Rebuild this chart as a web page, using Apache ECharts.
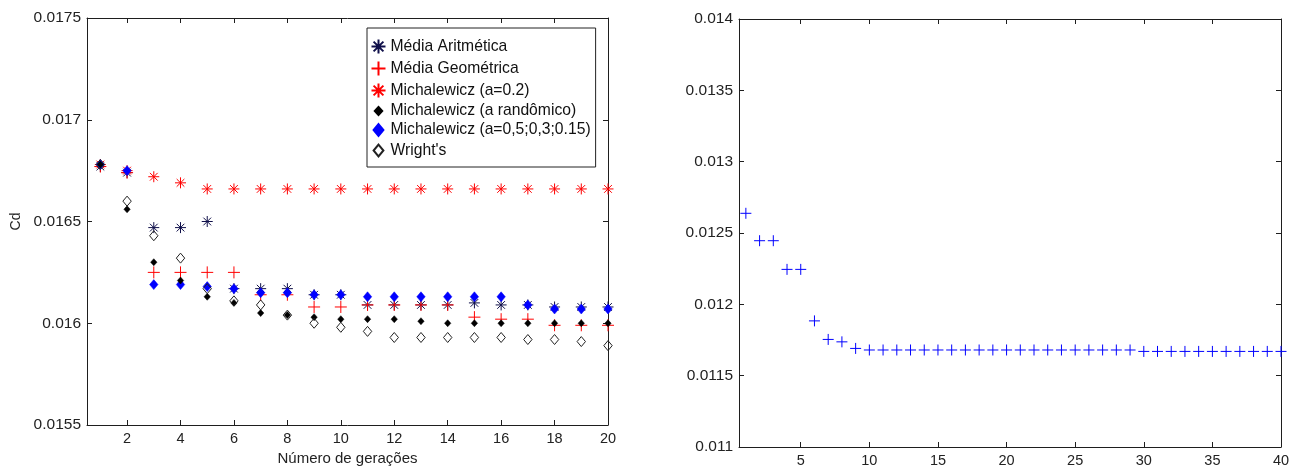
<!DOCTYPE html>
<html>
<head>
<meta charset="utf-8">
<script src="https://cdn.jsdelivr.net/npm/echarts@6/dist/echarts.min.js"></script>
<style>
html,body{margin:0;padding:0;background:#fff;}
#c{width:1297px;height:471px;}
</style>
</head>
<body>
<div id="c"></div>
<script>
// ---------- DATA ----------
const generations = [1,2,3,4,5,6,7,8,9,10,11,12,13,14,15,16,17,18,19,20];
const mediaAritmetica = [0.01677,0.01674,0.01647,0.01647,0.01650,0.01617,0.01617,0.01617,0.01614,0.01614,0.01609,0.01609,0.01609,0.01609,0.01610,0.01609,0.01609,0.01608,0.01608,0.01608];
const mediaGeometrica = [0.01677,0.01674,0.01625,0.01625,0.01625,0.01625,0.01614,0.01614,0.01608,0.01608,0.01609,0.01609,0.01609,0.01609,0.01603,0.01602,0.01602,0.01599,0.01599,0.01599];
const michA02 = [0.01678,0.01675,0.01672,0.01669,0.01666,0.01666,0.01666,0.01666,0.01666,0.01666,0.01666,0.01666,0.01666,0.01666,0.01666,0.01666,0.01666,0.01666,0.01666,0.01666];
const michRandom = [0.01678,0.01656,0.01630,0.01621,0.01613,0.01610,0.01605,0.01604,0.01603,0.01602,0.01602,0.01602,0.01601,0.01600,0.01600,0.01600,0.01600,0.01600,0.01600,0.01600];
const michMulti = [0.01678,0.01675,0.01619,0.01619,0.01618,0.01617,0.01615,0.01615,0.01614,0.01614,0.01613,0.01613,0.01613,0.01613,0.01613,0.01613,0.01609,0.01607,0.01607,0.01607];
const wrights = [0.01678,0.01660,0.01643,0.01632,0.01617,0.01611,0.01609,0.01604,0.01600,0.01598,0.01596,0.01593,0.01593,0.01593,0.01593,0.01593,0.01592,0.01592,0.01591,0.01589];

const rightGenerations = [1,2,3,4,5,6,7,8,9,10,11,12,13,14,15,16,17,18,19,20,21,22,23,24,25,26,27,28,29,30,31,32,33,34,35,36,37,38,39,40];
const rightValues = [0.012638,0.012446,0.012446,0.012245,0.012245,0.011884,0.011754,0.011737,0.011691,0.01168,0.01168,0.01168,0.01168,0.01168,0.01168,0.01168,0.01168,0.01168,0.01168,0.01168,0.01168,0.01168,0.01168,0.01168,0.01168,0.01168,0.01168,0.01168,0.01168,0.01167,0.01167,0.01167,0.01167,0.01167,0.01167,0.01167,0.01167,0.01167,0.01167,0.01167];

const leftXTicks = [2,4,6,8,10,12,14,16,18,20];
const rightXTicks = [5,10,15,20,25,30,35,40];

const seriesNames = ['Média Aritmética','Média Geométrica','Michalewicz (a=0.2)','Michalewicz (a randômico)','Michalewicz (a=0,5;0,3;0.15)',"Wright's"];
const xLabel = 'Número de gerações';
const yLabel = 'Cd';

// ---------- STYLE ----------
const FONT = "'Liberation Sans', Arial, sans-serif";
const AX = '#1e1e1e';
const PLUS = 'path://M0,0M12,12M6,0L6,12M0,6L12,6';
const STAR = 'path://M6,0L6,12M0,6L12,6M1.8,1.8L10.2,10.2M1.8,10.2L10.2,1.8';
const DIA_SMALL = 'path://M0,0M12,12M6,2.5L9.2,6L6,9.5L2.8,6Z';
const DIA_MID = 'path://M0,0M12,12M6,1L10.2,6L6,11L1.8,6Z';

function pairs(xs, ys){ return xs.map((x,i)=>[x, ys[i]]); }
const fmt = v => String(Number(v.toFixed(6)));

function xAx(grid, max, ticks, pos, show){
  return {
    type:'value', gridIndex:grid, min:0.5, max:max, position:pos,
    axisLine:{show:true, onZero:false, lineStyle:{color:AX, width:1}},
    axisTick:{show:true, inside:true, length:5, customValues:ticks, lineStyle:{color:AX}},
    axisLabel:{show:show, customValues:ticks, color:'#222', fontFamily:FONT, fontSize:14.5, margin:6},
    splitLine:{show:false}
  };
}
function yAx(grid, min, max, pos, show){
  return {
    type:'value', gridIndex:grid, min:min, max:max, interval:0.0005, position:pos,
    axisLine:{show:true, onZero:false, lineStyle:{color:AX, width:1}},
    axisTick:{show:true, inside:true, length:5, lineStyle:{color:AX}},
    axisLabel:{show:show, color:'#222', fontFamily:FONT, fontSize:15.5, margin:6, formatter:fmt},
    splitLine:{show:false}
  };
}

const chart = echarts.init(document.getElementById('c'), null, {renderer:'canvas'});
const xa0 = xAx(0, 20, leftXTicks, 'bottom', true);
xa0.name = xLabel; xa0.nameLocation = 'middle'; xa0.nameGap = 26;
xa0.nameTextStyle = {color:'#222', fontFamily:FONT, fontSize:15};
const ya0 = yAx(0, 0.0155, 0.0175, 'left', true);
ya0.name = yLabel; ya0.nameLocation = 'middle'; ya0.nameGap = 64;
ya0.nameTextStyle = {color:'#222', fontFamily:FONT, fontSize:14};

chart.setOption({
  animation:false,
  backgroundColor:'#fff',
  grid:[
    {left:87, top:18, width:521, height:411},
    {left:739, top:19, width:542, height:428}
  ],
  xAxis:[
    xa0,
    xAx(0, 20, leftXTicks, 'top', false),
    xAx(1, 40, rightXTicks, 'bottom', true),
    xAx(1, 40, rightXTicks, 'top', false)
  ],
  yAxis:[
    ya0,
    yAx(0, 0.0155, 0.0175, 'right', false),
    yAx(1, 0.011, 0.014, 'left', true),
    yAx(1, 0.011, 0.014, 'right', false)
  ],
  legend:{
    orient:'vertical',
    left:367, top:28,
    padding:[9,5,7,2],
    itemWidth:14, itemHeight:14, itemGap:3,
    borderColor:'#222', borderWidth:1, backgroundColor:'#fff',
    textStyle:{color:'#111', fontFamily:FONT, fontSize:15.7, lineHeight:16, padding:[0,0,0,0]},
    data:seriesNames
  },
  series:[
    {name:seriesNames[0], type:'scatter', xAxisIndex:0, yAxisIndex:0, data:pairs(generations, mediaAritmetica),
     symbol:STAR, symbolSize:11, itemStyle:{opacity:1, color:'none', borderColor:'#10104a', borderWidth:1}},
    {name:seriesNames[1], type:'scatter', xAxisIndex:0, yAxisIndex:0, data:pairs(generations, mediaGeometrica),
     symbol:PLUS, symbolSize:12, itemStyle:{opacity:1, color:'none', borderColor:'#ff0000', borderWidth:1}},
    {name:seriesNames[2], type:'scatter', xAxisIndex:0, yAxisIndex:0, data:pairs(generations, michA02),
     symbol:STAR, symbolSize:11, itemStyle:{opacity:1, color:'none', borderColor:'#ff0000', borderWidth:1}},
    {name:seriesNames[4], type:'scatter', xAxisIndex:0, yAxisIndex:0, data:pairs(generations, michMulti),
     symbol:DIA_MID, symbolSize:12, itemStyle:{opacity:1, color:'#0000ff', borderColor:'#0000ff', borderWidth:0.5}},
    {name:seriesNames[3], type:'scatter', xAxisIndex:0, yAxisIndex:0, data:pairs(generations, michRandom),
     symbol:DIA_SMALL, symbolSize:12, itemStyle:{opacity:1, color:'#000', borderColor:'#000', borderWidth:0.5}},
    {name:seriesNames[5], type:'scatter', xAxisIndex:0, yAxisIndex:0, data:pairs(generations, wrights),
     symbol:DIA_MID, symbolSize:12, itemStyle:{opacity:1, color:'none', borderColor:'#222', borderWidth:1}},
    {name:'Cd', type:'scatter', xAxisIndex:2, yAxisIndex:2, data:pairs(rightGenerations, rightValues),
     symbol:PLUS, symbolSize:11, itemStyle:{opacity:1, color:'none', borderColor:'#0000ff', borderWidth:1}}
  ]
});
</script>
</body>
</html>
